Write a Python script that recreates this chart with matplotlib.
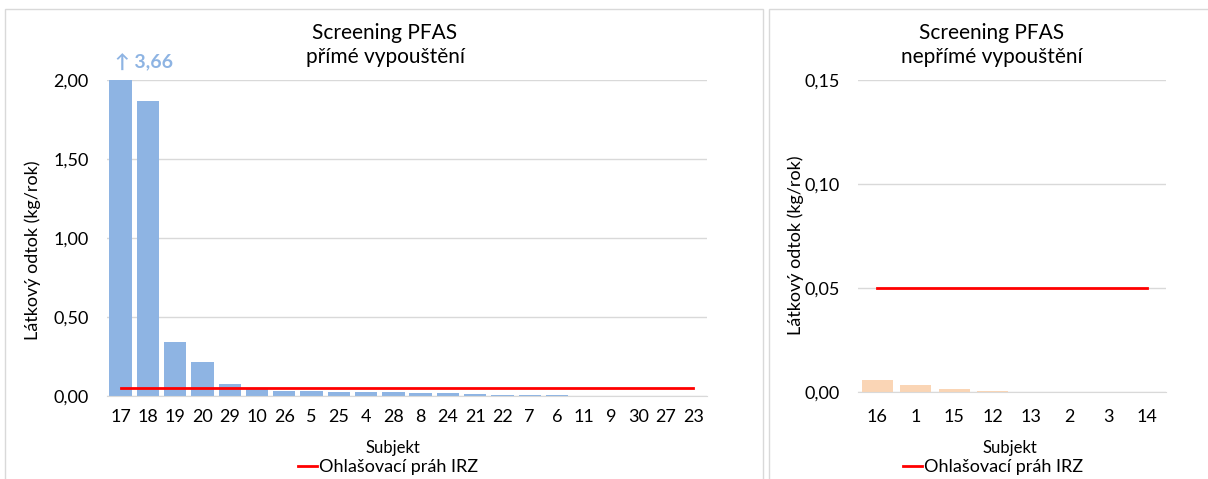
import numpy as np
import matplotlib
matplotlib.use("Agg")
import matplotlib.pyplot as plt
from matplotlib.lines import Line2D
from matplotlib.patches import Rectangle

plt.rcParams['font.family'] = ['Lato', 'DejaVu Sans']

# data: direct discharge (left) and indirect discharge (right), kg/rok
direct_subjects = ['17', '18', '19', '20', '29', '10', '26', '5', '25', '4', '28',
                   '8', '24', '21', '22', '7', '6', '11', '9', '30', '27', '23']
direct_values = [3.66, 1.87, 0.34, 0.213, 0.073, 0.045, 0.034, 0.034, 0.027, 0.023, 0.023,
                 0.018, 0.017, 0.013, 0.009, 0.008, 0.004, 0.0, 0.0, 0.0, 0.0, 0.0]

indirect_subjects = ['16', '1', '15', '12', '13', '2', '3', '14']
indirect_values = [0.0059, 0.0035, 0.0015, 0.0006, 0.0, 0.0, 0.0, 0.0]

THRESHOLD = 0.05  # ohlasovaci prah IRZ
left_ticks = [0.0, 0.5, 1.0, 1.5, 2.0]
right_ticks = [0.0, 0.05, 0.10, 0.15]

BLUE = '#8EB4E3'
PEACH = '#FAD5B5'
RED = '#FF0000'
GRID = '#D9D9D9'

W, H = 1208, 479


def px(x, y):
    # pixel position (from top-left) -> figure fraction
    return x / W, 1 - y / H


def style_axes(ax, ticks, ytick_pad, xtick_pad):
    ax.set_ylim(ticks[0], ticks[-1])
    ax.set_yticks(ticks)
    ax.set_yticklabels([f"{t:.2f}".replace('.', ',') for t in ticks])
    ax.yaxis.grid(True, color=GRID, lw=1)
    ax.set_axisbelow(True)
    for s in ['top', 'right', 'left']:
        ax.spines[s].set_visible(False)
    ax.spines['bottom'].set_color(GRID)
    ax.tick_params(length=0, labelsize=13)
    ax.tick_params(axis='y', pad=ytick_pad)
    ax.tick_params(axis='x', pad=xtick_pad)


fig = plt.figure(figsize=(W / 100, H / 100), dpi=100)

# panel frames
for x0, x1 in [(5, 763), (769, 1215)]:
    fig.patches.append(Rectangle(px(x0, H + 5), (x1 - x0) / W, (H - 4) / H,
                                 transform=fig.transFigure, fill=False,
                                 edgecolor=GRID, lw=1))

# left chart
ax1 = fig.add_axes([107 / W, 1 - 396 / H, 600 / W, 316 / H])
n1 = len(direct_subjects)
ax1.bar(range(n1), direct_values, width=0.82, color=BLUE)
ax1.plot(range(n1), [THRESHOLD] * n1, color=RED, lw=2)
ax1.set_xlim(-0.5, n1 - 0.5)
ax1.set_xticks(range(n1))
ax1.set_xticklabels(direct_subjects)
style_axes(ax1, left_ticks, 13, 9)
ax1.annotate("↑ " + f"{direct_values[0]:.2f}".replace('.', ','), xy=(0, 2.0),
             xytext=(-4, 6), textcoords='offset points', ha='left', va='bottom',
             color=BLUE, fontsize=14, fontweight='bold')

# right chart
ax2 = fig.add_axes([858 / W, 1 - 392 / H, 308 / W, 312 / H])
n2 = len(indirect_subjects)
ax2.bar(range(n2), indirect_values, width=0.8, color=PEACH)
ax2.plot(range(n2), [THRESHOLD] * n2, color=RED, lw=2)
ax2.set_xlim(-0.5, n2 - 0.5)
ax2.set_xticks(range(n2))
ax2.set_xticklabels(indirect_subjects)
style_axes(ax2, right_ticks, 13, 12)

# titles, axis labels, legends
for cx, sub, ylx, yly, xlx, lgx in [(385, 'přímé vypouštění', 33, 250, 393, 388),
                                     (992, 'nepřímé vypouštění', 796, 245, 1010, 993)]:
    fig.text(*px(cx, 45), 'Screening PFAS\n' + sub, ha='center', va='center',
             fontsize=15, linespacing=1.3)
    fig.text(*px(ylx, yly), 'Látkový odtok (kg/rok)', rotation=90,
             ha='center', va='center', fontsize=13)
    fig.text(*px(xlx, 448), 'Subjekt', ha='center', va='center', fontsize=12)
    fig.legend(handles=[Line2D([], [], color=RED, lw=2)], labels=['Ohlašovací práh IRZ'],
               loc='center', bbox_to_anchor=px(lgx, 467), frameon=False,
               fontsize=13, handlelength=1.1, handletextpad=0.1,
               borderpad=0, borderaxespad=0)

fig.savefig('out.png', dpi=100)
